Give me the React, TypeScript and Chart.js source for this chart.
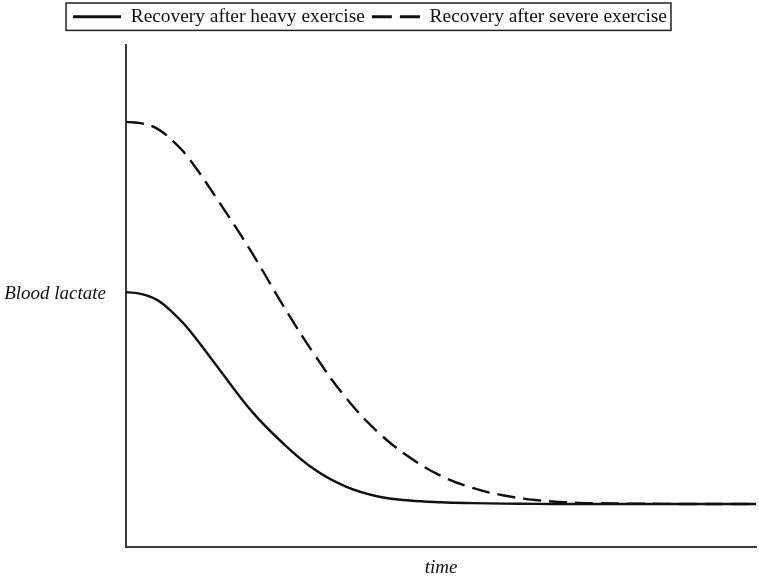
import { useEffect, useRef } from "react";
import { Chart, registerables } from "chart.js";

Chart.register(...registerables);

const timePoints = [0, 2.5, 5, 7.5, 10, 15, 20, 25, 30, 35, 40, 45, 50, 55, 60, 65, 70, 75, 80, 85, 90, 95, 100];
const heavyExercise = [50.8, 50.4, 49.2, 46.6, 43.3, 35.1, 27.0, 20.6, 15.4, 12.0, 10.1, 9.3, 8.95, 8.78, 8.68, 8.63, 8.6, 8.6, 8.6, 8.6, 8.6, 8.6, 8.6];
const severeExercise = [84.7, 84.4, 83.3, 80.8, 77.4, 68.3, 58.6, 48.0, 38.2, 29.6, 22.9, 17.9, 14.2, 11.8, 10.3, 9.4, 8.95, 8.75, 8.67, 8.63, 8.6, 8.6, 8.6];
const seriesLabels = ["Recovery after heavy exercise", "Recovery after severe exercise"];
const yTickValues = [50.4];
const yTickLabels = ["Blood lactate"];
const xAxisTitle = "time";

const FONT = "'Liberation Serif', 'Times New Roman', serif";

export default function App() {
  const ref = useRef<HTMLCanvasElement>(null);

  useEffect(() => {
    if (!ref.current) return;
    const legendShiftX = -8;
    const legendFrame = {
      id: "legendFrame",
      afterLayout(chart: any) {
        const l = chart.legend;
        if (l) {
          const dy = -l.top;
          l.left += legendShiftX;
          l.right += legendShiftX;
          l.top += dy;
          l.bottom += dy;
        }
      },
      afterDraw(chart: any) {
        const l = chart.legend;
        const hb = l && l.legendHitBoxes;
        if (!hb || !hb.length) return;
        const ctx = chart.ctx;
        const left = Math.min(...hb.map((h: any) => h.left)) - 7;
        const right = Math.max(...hb.map((h: any) => h.left + h.width)) + 4;
        const top = Math.min(...hb.map((h: any) => h.top)) - 4;
        const bottom = Math.max(...hb.map((h: any) => h.top + h.height)) + 4;
        ctx.save();
        ctx.strokeStyle = "#222";
        ctx.lineWidth = 1.5;
        ctx.setLineDash([]);
        ctx.strokeRect(left, top, right - left, bottom - top);
        ctx.restore();
      },
    };

    const chart = new Chart(ref.current, {
      type: "line",
      data: {
        datasets: [
          {
            label: seriesLabels[0],
            data: timePoints.map((t, i) => ({ x: t, y: heavyExercise[i] })),
            borderColor: "#111",
            borderWidth: 2.4,
            pointRadius: 0,
            tension: 0.4,
            fill: false,
          },
          {
            label: seriesLabels[1],
            data: timePoints.map((t, i) => ({ x: t, y: severeExercise[i] })),
            borderColor: "#111",
            borderWidth: 2.4,
            borderDash: [18, 8],
            pointRadius: 0,
            tension: 0.4,
            fill: false,
          },
        ],
      },
      options: {
        animation: false,
        responsive: true,
        maintainAspectRatio: false,
        layout: { padding: { left: 0, right: 3, top: 0, bottom: 0 } },
        plugins: {
          tooltip: { enabled: false },
          legend: {
            display: true,
            position: "top",
            labels: {
              usePointStyle: true,
              pointStyleWidth: 48,
              padding: 7,
              color: "#111",
              font: { family: FONT, size: 19.4 },
              generateLabels: (c: any) =>
                (Chart.defaults.plugins.legend.labels.generateLabels as any)(c).map((item: any, i: number) => ({
                  ...item,
                  pointStyle: "line",
                  lineWidth: 3,
                  lineDash: i === 1 ? [20, 8] : [],
                  strokeStyle: "#111",
                  fillStyle: "transparent",
                })),
            },
          },
        },
        scales: {
          x: {
            type: "linear",
            min: 0,
            max: 100,
            grid: { display: false, drawTicks: false },
            border: { display: true, color: "#3a3a3a", width: 2 },
            ticks: { display: false },
            title: {
              display: true,
              text: xAxisTitle,
              color: "#111",
              font: { family: FONT, size: 19, style: "italic" },
              padding: { top: 9, bottom: -3 },
            },
          },
          y: {
            type: "linear",
            min: 0,
            max: 100,
            grid: { display: false, drawTicks: false },
            border: { display: true, color: "#3a3a3a", width: 2 },
            ticks: {
              padding: 20,
              color: "#111",
              font: { family: FONT, size: 19, style: "italic" },
              callback: (_v: any, i: number) => yTickLabels[i] ?? "",
            },
            afterBuildTicks: (s: any) => {
              s.ticks = yTickValues.map((v) => ({ value: v }));
            },
            afterFit: (s: any) => {
              s.width = 126;
              s.paddingTop = 45;
              s.paddingBottom = 0;
            },
          },
        },
      } as any,
      plugins: [legendFrame],
    });

    return () => chart.destroy();
  }, []);

  return (
    <div style={{ position: "absolute", left: 0, top: 0, width: 759, height: 576, background: "#fff" }}>
      <canvas ref={ref} />
    </div>
  );
}
